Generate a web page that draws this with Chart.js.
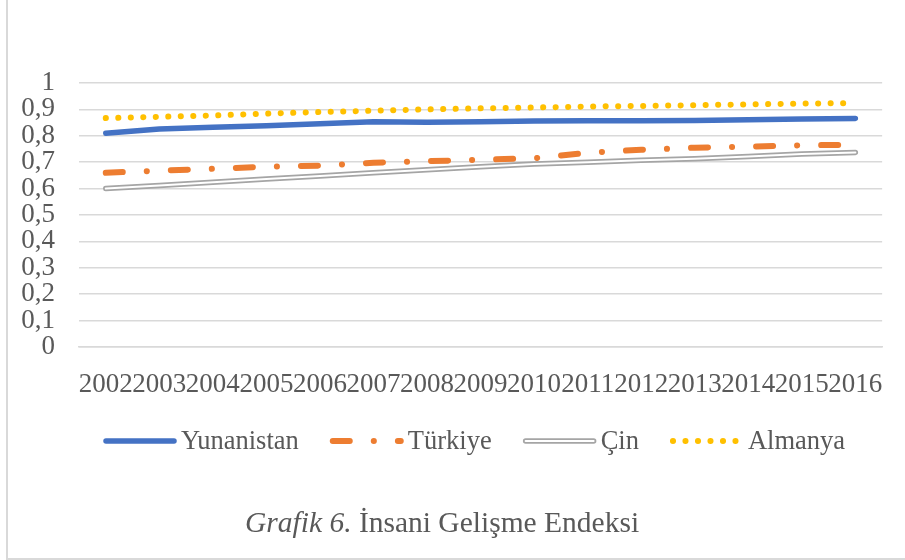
<!DOCTYPE html>
<html>
<head>
<meta charset="utf-8">
<script src="https://cdn.jsdelivr.net/npm/chart.js@4"></script>
<style>
  body { margin: 0; background: #fff; }
  #wrap { position: relative; width: 905px; height: 560px; overflow: hidden; }
  #frame {
    position: absolute; left: 6px; top: 0; width: 899px; height: 560px;
    box-sizing: border-box;
    border-left: 2px solid #d9d9d9; border-bottom: 2px solid #d9d9d9;
  }
  #chart { position: absolute; left: 0; top: 0; }
  #caption {
    position: absolute; left: 245px; top: 506px;
    font-family: "Liberation Serif", Tinos, "Times New Roman", "DejaVu Serif", serif;
    font-size: 29.5px; line-height: 32px; color: #595959; white-space: nowrap;
  }
</style>
</head>
<body>
<div id="wrap">
  <div id="frame"></div>
  <canvas id="chart" width="905" height="560"></canvas>
  <div id="caption"><i>Grafik 6.</i> İnsani Gelişme Endeksi</div>
</div>
<script>
// Data
const years = ['2002', '2003', '2004', '2005', '2006', '2007', '2008', '2009',
  '2010', '2011', '2012', '2013', '2014', '2015', '2016'];
const yunanistan = [0.810, 0.826, 0.832, 0.838, 0.846, 0.853, 0.851, 0.853,
  0.856, 0.857, 0.857, 0.858, 0.861, 0.864, 0.866];
const turkiye = [0.660, 0.668, 0.675, 0.683, 0.687, 0.698, 0.704, 0.709,
  0.715, 0.736, 0.747, 0.755, 0.759, 0.764, 0.766];
const cin = [0.600, 0.612, 0.624, 0.636, 0.648, 0.660, 0.671, 0.683,
  0.693, 0.700, 0.707, 0.713, 0.722, 0.731, 0.737];
const almanya = [0.867, 0.872, 0.877, 0.884, 0.890, 0.895, 0.900, 0.904,
  0.907, 0.911, 0.913, 0.916, 0.919, 0.922, 0.924];
const yTickLabels = ['0', '0,1', '0,2', '0,3', '0,4', '0,5', '0,6', '0,7', '0,8', '0,9', '1'];

const FONT = '"Liberation Serif", Tinos, "Times New Roman", "DejaVu Serif", serif';
const TEXT = '#595959';

// legend drawn by hand so the line samples look like the series
const legendEntries = [
  { label: 'Yunanistan', sets: [0] },
  { label: 'Türkiye', sets: [1] },
  { label: 'Çin', sets: [3, 2] },
  { label: 'Almanya', sets: [4] }
];

const lineLegend = {
  id: 'lineLegend',
  afterDraw(chart) {
    const ctx = chart.ctx;
    const sample = 72, textGap = 5, itemGap = 32;
    const y = 441;
    ctx.save();
    ctx.font = '26.5px ' + FONT;
    ctx.textBaseline = 'middle';
    let x = chart.chartArea.left + 25;
    legendEntries.forEach(entry => {
      entry.sets.forEach(i => {
        const ds = chart.data.datasets[i];
        ctx.beginPath();
        ctx.strokeStyle = ds.borderColor;
        ctx.lineWidth = ds.borderWidth;
        ctx.lineCap = ds.borderCapStyle || 'butt';
        ctx.setLineDash(ds.borderDash || []);
        ctx.moveTo(x + 2, y);
        ctx.lineTo(x + sample - 2, y);
        ctx.stroke();
      });
      ctx.setLineDash([]);
      ctx.fillStyle = TEXT;
      ctx.fillText(entry.label, x + sample + textGap, y + 1);
      x += sample + textGap + ctx.measureText(entry.label).width + itemGap;
    });
    ctx.restore();
  }
};

const ctx = document.getElementById('chart').getContext('2d');
new Chart(ctx, {
  type: 'line',
  data: {
    labels: years,
    datasets: [
      {
        label: 'Yunanistan', data: yunanistan,
        borderColor: '#4472C4', borderWidth: 5.5,
        borderCapStyle: 'round', borderJoinStyle: 'round'
      },
      {
        label: 'Türkiye', data: turkiye,
        borderColor: '#ED7D31', borderWidth: 6,
        borderDash: [17, 24, 0.1, 24],
        borderCapStyle: 'round', borderJoinStyle: 'round'
      },
      {
        // inner white stroke of the double line
        label: 'Çin', data: cin,
        borderColor: '#ffffff', borderWidth: 2,
        borderCapStyle: 'round', borderJoinStyle: 'round'
      },
      {
        label: 'Çin', data: cin,
        borderColor: '#A5A5A5', borderWidth: 5.5,
        borderCapStyle: 'round', borderJoinStyle: 'round'
      },
      {
        label: 'Almanya', data: almanya,
        borderColor: '#FFC000', borderWidth: 6,
        borderDash: [0.1, 12.4],
        borderCapStyle: 'round', borderJoinStyle: 'round'
      }
    ]
  },
  options: {
    responsive: false,
    animation: false,
    elements: { point: { radius: 0, hoverRadius: 0 }, line: { tension: 0 } },
    layout: { padding: { top: 83, left: 1, right: 19, bottom: 163 } },
    plugins: {
      legend: { display: false },
      tooltip: { enabled: false }
    },
    scales: {
      x: {
        offset: true,
        grid: { display: false, drawTicks: false },
        border: { display: true, color: '#d9d9d9', width: 1.5 },
        afterFit: scale => { scale.height = 50; },
        ticks: {
          autoSkip: false, maxRotation: 0, minRotation: 0,
          padding: 22, color: TEXT,
          font: { family: FONT, size: 27 }
        }
      },
      y: {
        min: 0, max: 1,
        grid: { color: '#d9d9d9', lineWidth: 1.5, drawTicks: false },
        border: { display: false },
        afterFit: scale => { scale.width = 78; },
        ticks: {
          stepSize: 0.1, autoSkip: false, padding: 24, color: TEXT,
          font: { family: FONT, size: 27 },
          callback: (value, index) => yTickLabels[index]
        }
      }
    }
  },
  plugins: [lineLegend]
});
</script>
</body>
</html>
